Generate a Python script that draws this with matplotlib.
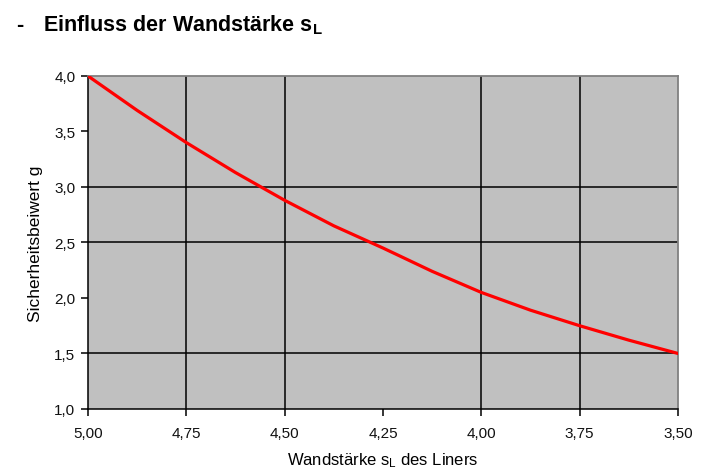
"""Einfluss der Wandstärke s_L auf den Sicherheitsbeiwert g."""

import matplotlib

matplotlib.use("Agg")
import matplotlib.pyplot as plt

plt.rcParams["font.family"] = ["Liberation Sans", "DejaVu Sans"]
plt.rcParams["mathtext.fontset"] = "custom"
plt.rcParams["mathtext.rm"] = "Liberation Sans"
plt.rcParams["mathtext.it"] = "Liberation Sans"
plt.rcParams["mathtext.bf"] = "Liberation Sans:bold"

wall_thickness = [5.000, 4.875, 4.750, 4.625, 4.500, 4.375, 4.250,
                  4.125, 4.000, 3.875, 3.750, 3.625, 3.500]
safety_factor = [4.00, 3.69, 3.40, 3.13, 2.88, 2.65, 2.45,
                 2.24, 2.05, 1.89, 1.75, 1.62, 1.50]

x_ticks = [5.00, 4.75, 4.50, 4.25, 4.00, 3.75, 3.50]
x_tick_labels = ["5,00", "4,75", "4,50", "4,25", "4,00", "3,75", "3,50"]
y_ticks = [1.0, 1.5, 2.0, 2.5, 3.0, 3.5, 4.0]
y_tick_labels = ["1,0", "1,5", "2,0", "2,5", "3,0", "3,5", "4,0"]

# gridlines that are visible in the original picture
x_grid = [4.75, 4.50, 4.00, 3.75]
y_grid = [1.5, 2.5, 3.0]

fig = plt.figure(figsize=(7.2, 4.77), dpi=100)
ax = fig.add_axes([0.1222, 0.1405, 0.8195, 0.6981])
ax.set_facecolor("#c0c0c0")

for xv in x_grid:
    ax.axvline(xv, color="black", linewidth=1.1, zorder=1)
for yv in y_grid:
    ax.axhline(yv, color="black", linewidth=1.1, zorder=1)

ax.plot(wall_thickness, safety_factor, color="#ff0000", linewidth=2.3,
        solid_capstyle="round", solid_joinstyle="round", zorder=3)

ax.set_xlim(5.00, 3.50)
ax.set_ylim(1.0, 4.0)
ax.set_xticks(x_ticks)
ax.set_xticklabels(x_tick_labels)
ax.set_yticks(y_ticks)
ax.set_yticklabels(y_tick_labels)
ax.tick_params(axis="both", direction="out", length=5, width=1.1,
               color="black", labelsize=11, labelcolor="#111111")
ax.tick_params(axis="x", pad=7)
ax.tick_params(axis="y", pad=4)

for spine in ("left", "bottom"):
    ax.spines[spine].set_color("black")
    ax.spines[spine].set_linewidth(1.1)
for spine in ("top", "right"):
    ax.spines[spine].set_color("#808080")
    ax.spines[spine].set_linewidth(1.3)

ax.set_xlabel(r"Wandstärke s$_\mathrm{L}$ des Liners", fontsize=12, labelpad=8)
ax.set_ylabel("Sicherheitsbeiwert g", fontsize=12.5, labelpad=8)

fig.text(0.022, 0.935, "-", fontsize=15.5, fontweight="bold")
fig.text(0.060, 0.935, r"Einfluss der Wandstärke $\mathbf{s}_\mathbf{L}$",
         fontsize=15.5, fontweight="bold")

fig.savefig("out.png", dpi=100)
